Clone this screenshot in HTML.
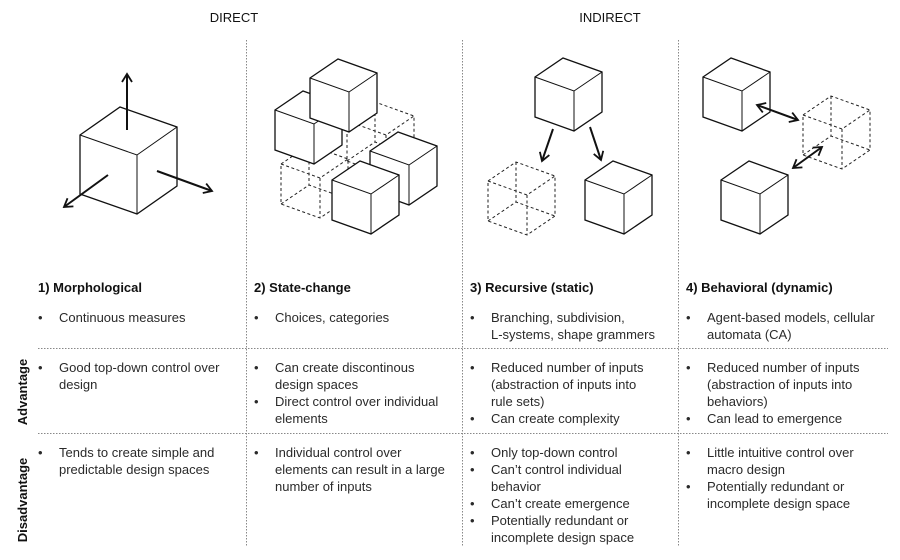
<!DOCTYPE html>
<html><head><meta charset="utf-8"><style>
html,body{margin:0;padding:0;background:#fff;}
svg{display:block;}
text{font-family:"Liberation Sans",sans-serif;}
.t{font-size:13px;fill:#2a2a2a;}
.h{font-size:13px;font-weight:bold;fill:#111;}
</style></head><body>
<svg width="900" height="560" viewBox="0 0 900 560" xmlns="http://www.w3.org/2000/svg">
<defs>
<marker id="a" viewBox="0 0 12 12" refX="10" refY="6" markerWidth="12" markerHeight="12" markerUnits="userSpaceOnUse" orient="auto-start-reverse">
<path d="M2,1 L10,6 L2,11" fill="none" stroke="#111" stroke-width="1.8"/>
</marker>
<g id="sc"><path d="M-39,-14 L-11,-33 L28,-19 L28,21 L0,40 L-39,26 Z" fill="#fff" stroke="#111" stroke-width="1.3"/><path d="M-39,-14 L0,0 L28,-19 M0,0 V40" fill="none" stroke="#111" stroke-width="1"/></g>
<g id="dc" fill="none" stroke="#222" stroke-width="1" stroke-dasharray="3,2.5"><path d="M-39,-14 L-11,-33 L28,-19 L28,21 L0,40 L-39,26 Z M-39,-14 L0,0 L28,-19 M0,0 V40 M-11,-33 V7 M-39,26 L-11,7 L28,21"/></g>
</defs>
<text x="234" y="22" text-anchor="middle" class="h" style="font-weight:normal;font-size:13px;fill:#111">DIRECT</text>
<text x="610" y="22" text-anchor="middle" class="h" style="font-weight:normal;font-size:13px;fill:#111">INDIRECT</text>
<g stroke="#888" stroke-width="1" stroke-dasharray="1.5,1.5">
<line x1="246.5" y1="40" x2="246.5" y2="546"/>
<line x1="462.5" y1="40" x2="462.5" y2="546"/>
<line x1="678.5" y1="40" x2="678.5" y2="546"/>
<line x1="38" y1="348.5" x2="888" y2="348.5"/>
<line x1="38" y1="433.5" x2="888" y2="433.5"/>
</g>
<!-- morphological -->
<g transform="translate(137,155)"><path d="M-57,-20 L-17,-48 L40,-28 L40,31 L0,59 L-57,39 Z" fill="#fff" stroke="#111" stroke-width="1.3"/><path d="M-57,-20 L0,0 L40,-28 M0,0 V59" fill="none" stroke="#111" stroke-width="1"/></g>
<g stroke="#111" stroke-width="2" fill="none" marker-end="url(#a)">
<line x1="127" y1="130" x2="127" y2="74"/>
<line x1="157" y1="171" x2="212" y2="191"/>
<line x1="108" y1="175" x2="64" y2="207"/>
</g>
<!-- state-change -->
<use href="#dc" x="386" y="135"/>
<use href="#dc" x="320" y="178"/>
<use href="#sc" x="314" y="124"/>
<use href="#sc" x="349" y="92"/>
<use href="#sc" x="409" y="165"/>
<use href="#sc" x="371" y="194"/>
<!-- recursive -->
<use href="#sc" x="574" y="91"/>
<use href="#dc" x="527" y="195"/>
<use href="#sc" x="624" y="194"/>
<g stroke="#111" stroke-width="2" fill="none" marker-end="url(#a)">
<line x1="553" y1="129" x2="542" y2="161"/>
<line x1="590" y1="127" x2="601" y2="160"/>
</g>
<!-- behavioral -->
<use href="#sc" x="742" y="91"/>
<use href="#dc" x="842" y="129"/>
<use href="#sc" x="760" y="194"/>
<g stroke="#111" stroke-width="2" fill="none" marker-end="url(#a)" marker-start="url(#a)">
<line x1="757" y1="105" x2="798" y2="120"/>
<line x1="793" y1="168" x2="822" y2="147"/>
</g>
<!-- titles -->
<text x="38" y="292" class="h">1) Morphological</text>
<text x="254" y="292" class="h">2) State-change</text>
<text x="470" y="292" class="h">3) Recursive (static)</text>
<text x="686" y="292" class="h">4) Behavioral (dynamic)</text>
<g class="t">
<text x="38" y="322">•</text><text x="59" y="322">Continuous measures</text>
<text x="254" y="322">•</text><text x="275" y="322">Choices, categories</text>
<text x="470" y="322">•</text><text x="491" y="322">Branching, subdivision,</text><text x="491" y="339">L-systems, shape grammers</text>
<text x="686" y="322">•</text><text x="707" y="322">Agent-based models, cellular</text><text x="707" y="339">automata (CA)</text>

<text x="38" y="372">•</text><text x="59" y="372">Good top-down control over</text><text x="59" y="389">design</text>
<text x="254" y="372">•</text><text x="275" y="372">Can create discontinous</text><text x="275" y="389">design spaces</text>
<text x="254" y="406">•</text><text x="275" y="406">Direct control over individual</text><text x="275" y="423">elements</text>
<text x="470" y="372">•</text><text x="491" y="372">Reduced number of inputs</text><text x="491" y="389">(abstraction of inputs into</text><text x="491" y="406">rule sets)</text>
<text x="470" y="423">•</text><text x="491" y="423">Can create complexity</text>
<text x="686" y="372">•</text><text x="707" y="372">Reduced number of inputs</text><text x="707" y="389">(abstraction of inputs into</text><text x="707" y="406">behaviors)</text>
<text x="686" y="423">•</text><text x="707" y="423">Can lead to emergence</text>

<text x="38" y="457">•</text><text x="59" y="457">Tends to create simple and</text><text x="59" y="474">predictable design spaces</text>
<text x="254" y="457">•</text><text x="275" y="457">Individual control over</text><text x="275" y="474">elements can result in a large</text><text x="275" y="491">number of inputs</text>
<text x="470" y="457">•</text><text x="491" y="457">Only top-down control</text>
<text x="470" y="474">•</text><text x="491" y="474">Can’t control individual</text><text x="491" y="491">behavior</text>
<text x="470" y="508">•</text><text x="491" y="508">Can’t create emergence</text>
<text x="470" y="525">•</text><text x="491" y="525">Potentially redundant or</text><text x="491" y="542">incomplete design space</text>
<text x="686" y="457">•</text><text x="707" y="457">Little intuitive control over</text><text x="707" y="474">macro design</text>
<text x="686" y="491">•</text><text x="707" y="491">Potentially redundant or</text><text x="707" y="508">incomplete design space</text>
</g>
<text class="h" transform="translate(27,392) rotate(-90)" text-anchor="middle">Advantage</text>
<text class="h" transform="translate(27,500) rotate(-90)" text-anchor="middle">Disadvantage</text>
</svg>
</body></html>
